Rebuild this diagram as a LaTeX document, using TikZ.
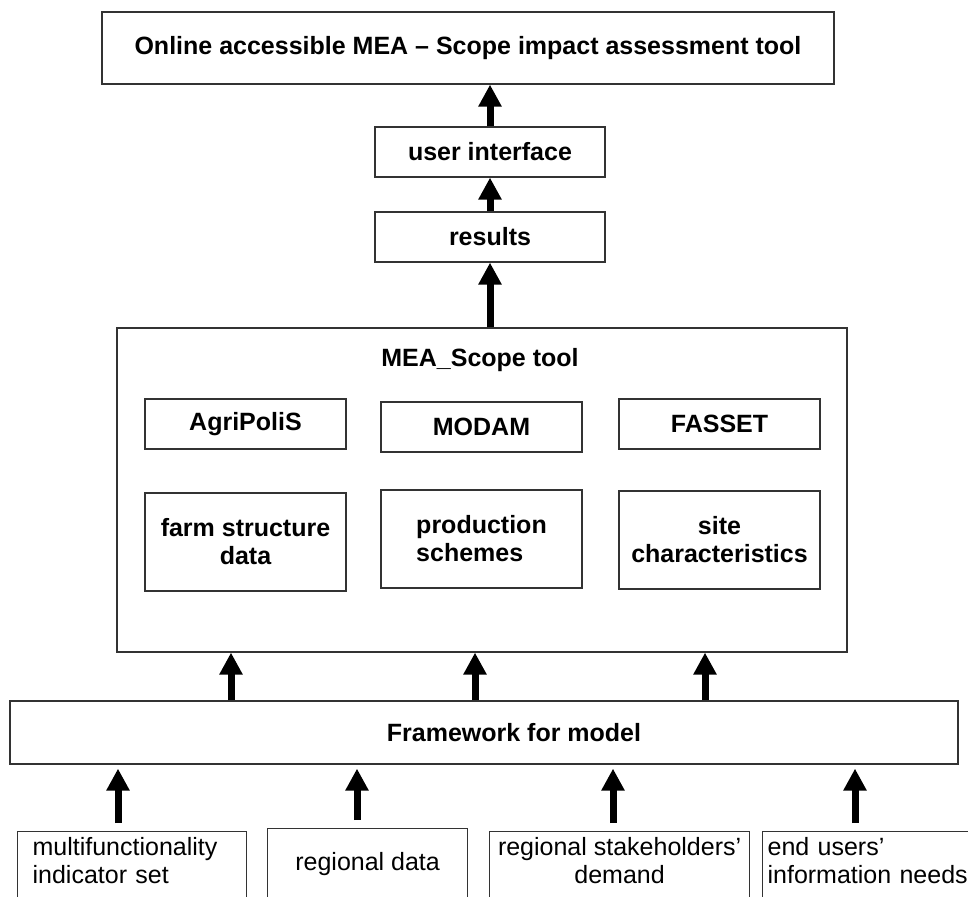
\documentclass[tikz,border=0pt]{standalone}
\usepackage{fontspec}
\setmainfont{Liberation Sans}
\usetikzlibrary{arrows.meta, positioning, calc}

\begin{document}
\begin{tikzpicture}[x=1pt, y=-1pt,
  box/.style = {draw=black!80, line width=1.2pt, inner sep=0pt, font=\fontsize{25}{28}\selectfont\bfseries},
  low/.style = {draw=black!80, line width=1.2pt, anchor=north west, inner ysep=6pt, text depth=60pt, font=\fontsize{25}{28}\selectfont},
  arr/.style = {line width=7pt, -{Triangle[width=22pt,length=22pt]}}]
\useasboundingbox (0,0) rectangle (968,896);
\clip (0,0) rectangle (968,896);

% top part
\node[box, minimum width=732, minimum height=72] (top) at (468,48) {Online accessible MEA -- Scope impact assessment tool};
\node[box, minimum width=230, minimum height=50] (ui) at (490,152) {user interface};
\node[box, minimum width=230, minimum height=50] (res) at (490,237) {results};

% the tool and its models
\node[box, minimum width=730, minimum height=324] (mea) at (482,490) {};
\node[font=\fontsize{25}{28}\selectfont\bfseries] (meatitle) at (480,360) {MEA\_Scope tool};
\node[box, minimum width=201, minimum height=50] (agri) at (245.5,424) {AgriPoliS};
\node[box, minimum width=201, minimum height=50] (modam) at (481.5,427) {MODAM};
\node[box, minimum width=201, minimum height=50] (fasset) at (719.5,424) {FASSET};
\node[box, minimum width=201, minimum height=98, align=center] (farm) at (245.5,542) {farm structure\\data};
\node[box, minimum width=201, minimum height=98, align=left] (prod) at (481.5,539) {production\\schemes};
\node[box, minimum width=201, minimum height=98, align=center] (site) at (719.5,540) {site\\characteristics};

\node[box, minimum width=948, minimum height=63,
  label={[font=\fontsize{25}{28}\selectfont\bfseries, xshift=30pt]center:Framework for model}] (fw) at (484,732.5) {};

% inputs
\node[low, align=left, text width=199pt, inner xsep=15pt] (in1) at (17,831) {multifunctionality\\indicator set};
\node[low, minimum width=200, align=center, text height=36pt] (in2) at (267,828) {regional data};
\node[low, minimum width=260, align=center, inner xsep=2pt] (in3) at (489,831) {regional stakeholders'\\demand};
\node[low, align=left, text width=215pt, inner xsep=5pt] (in4) at (762,831) {end users'\\information needs};

\coordinate (u1) at (231,0);
\coordinate (u2) at (475,0);
\coordinate (u3) at (705,0);
\coordinate (d1) at (118,0);
\coordinate (d2) at (357,0);
\coordinate (d3) at (613,0);
\coordinate (d4) at (855,0);

\draw[arr] (ui.north) -- (ui.north |- top.south);
\draw[arr] (res.north) -- (ui.south);
\draw[arr] (res.south |- mea.north) -- (res.south);

\draw[arr] (fw.north -| u1) -- (mea.south -| u1);
\draw[arr] (fw.north -| u2) -- (mea.south -| u2);
\draw[arr] (fw.north -| u3) -- (mea.south -| u3);

\draw[arr, shorten <=8pt, shorten >=4pt] (in1.north -| d1) -- (fw.south -| d1);
\draw[arr, shorten <=8pt, shorten >=4pt] (in2.north -| d2) -- (fw.south -| d2);
\draw[arr, shorten <=8pt, shorten >=4pt] (in3.north -| d3) -- (fw.south -| d3);
\draw[arr, shorten <=8pt, shorten >=4pt] (in4.north -| d4) -- (fw.south -| d4);
\end{tikzpicture}
\end{document}
